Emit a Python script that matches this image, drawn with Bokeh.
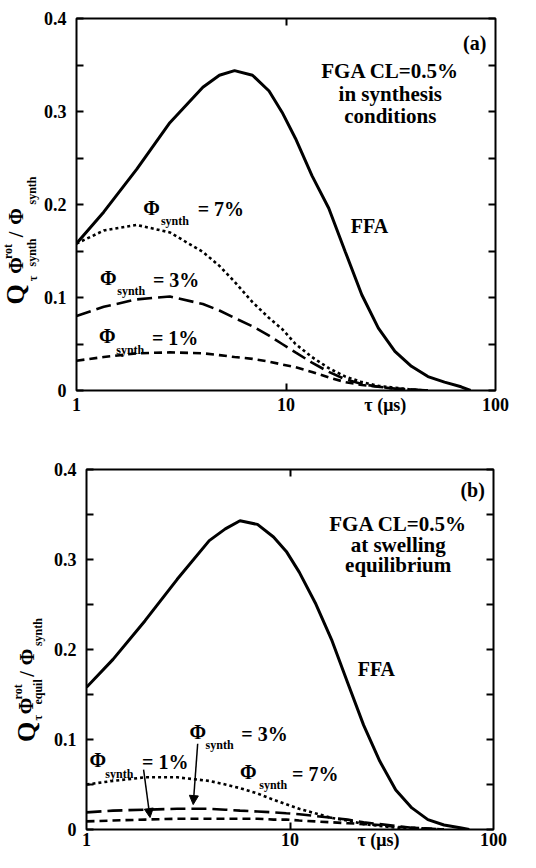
import math
from bokeh.plotting import figure
from bokeh.models import FixedTicker, LinearAxis, LogAxis, Label, Arrow, NormalHead, Range1d
from bokeh.layouts import column, row
from bokeh.embed import file_html
from bokeh.resources import INLINE

# ---------------- data ----------------
tau = [1.0, 1.35, 1.94, 2.79, 4.01, 4.81, 5.68, 6.92, 8.30, 9.59, 11.1, 13.3,
       16.0, 19.2, 23.0, 27.6, 33.1, 39.7, 47.6, 57.1, 68.5, 76.0]

a_ffa = [0.158, 0.192, 0.238, 0.288, 0.326, 0.339, 0.344, 0.339, 0.322, 0.299, 0.271,
         0.231, 0.196, 0.149, 0.103, 0.067, 0.042, 0.026, 0.015, 0.009, 0.004, 0.0]
a_phi7 = [0.158, 0.172, 0.178, 0.170, 0.149, 0.134, 0.117, 0.095, 0.078, 0.066, 0.050,
          0.036, 0.024, 0.015, 0.009, 0.005, 0.003, 0.001, 0.0]
a_phi3 = [0.080, 0.090, 0.098, 0.101, 0.093, 0.086, 0.078, 0.069, 0.059, 0.050, 0.041,
          0.030, 0.020, 0.012, 0.007, 0.004, 0.002, 0.001, 0.0]
a_phi1 = [0.032, 0.036, 0.040, 0.041, 0.040, 0.038, 0.036, 0.034, 0.031, 0.028, 0.025,
          0.020, 0.014, 0.009, 0.006, 0.004, 0.002, 0.001, 0.0]

b_ffa = [0.158, 0.189, 0.232, 0.278, 0.321, 0.334, 0.343, 0.339, 0.325, 0.309, 0.286,
         0.252, 0.211, 0.163, 0.116, 0.076, 0.044, 0.024, 0.011, 0.005, 0.002, 0.0]
b_phi7 = [0.050, 0.054, 0.058, 0.058, 0.054, 0.050, 0.046, 0.040, 0.033, 0.028, 0.023,
          0.018, 0.013, 0.010, 0.006, 0.004, 0.002, 0.001, 0.0]
b_phi3 = [0.019, 0.021, 0.022, 0.023, 0.023, 0.022, 0.021, 0.020, 0.019, 0.018, 0.017,
          0.015, 0.013, 0.011, 0.008, 0.006, 0.004, 0.002, 0.001, 0.0]
b_phi1 = [0.009, 0.010, 0.011, 0.012, 0.012, 0.012, 0.012, 0.012, 0.011, 0.011, 0.010,
          0.009, 0.008, 0.007, 0.006, 0.005, 0.003, 0.002, 0.001, 0.0]

x_ticks = [1, 10, 100]
x_labels = ["1", "10", "100"]
x_title = "τ (μs)"
x_title_pos_a = 29.8
x_title_pos_b = 27.2
y_major = [0, 0.1, 0.2, 0.3, 0.4]
y_minor = [0.05, 0.15, 0.25, 0.35]
y_labels = ["0", "0.1", "0.2", "0.3", "0.4"]

FONT = "Liberation Serif"


def style_axis(ax, show_labels, standoff, tick_len=7):
    ax.axis_line_color = None
    ax.major_tick_in = tick_len
    ax.major_tick_out = 0
    ax.minor_tick_in = tick_len
    ax.minor_tick_out = 0
    ax.major_tick_line_width = 2
    ax.minor_tick_line_width = 2
    ax.major_tick_line_color = "black"
    ax.minor_tick_line_color = "black"
    ax.major_label_text_font = FONT
    ax.major_label_text_font_style = "bold"
    ax.major_label_text_color = "black"
    ax.major_label_standoff = standoff
    if show_labels:
        ax.major_label_text_font_size = "18px"
    else:
        ax.major_label_text_font_size = "1px"
        ax.major_label_text_alpha = 0


def make_fig(w, h, bl, br, bt, bb, xstand, xt_pos):
    p = figure(width=w, height=h, x_axis_type="log", x_range=(1, 100), y_range=(0, 0.4),
               output_backend="svg", toolbar_location=None,
               min_border_left=bl, min_border_right=br, min_border_top=bt, min_border_bottom=bb)
    p.grid.grid_line_color = None
    p.outline_line_color = "black"
    p.outline_line_width = 2
    p.background_fill_color = "white"
    p.border_fill_color = "white"
    xa = p.xaxis[0]
    xa.ticker = FixedTicker(ticks=[10])
    style_axis(xa, False, 0)
    xl = LogAxis(ticker=FixedTicker(ticks=x_ticks + [xt_pos]))
    xl.major_label_overrides = dict(zip(x_ticks + [xt_pos], x_labels + [x_title]))
    style_axis(xl, True, xstand, tick_len=0)
    xl.major_tick_line_color = None
    xl.minor_tick_line_color = None
    p.add_layout(xl, "below")
    ya = p.yaxis[0]
    ya.ticker = FixedTicker(ticks=y_major, minor_ticks=y_minor)
    ya.major_label_overrides = dict(zip(y_major, y_labels))
    style_axis(ya, True, 10)
    right = LinearAxis(ticker=FixedTicker(ticks=y_major, minor_ticks=y_minor))
    style_axis(right, False, 0)
    p.add_layout(right, "right")
    top = LogAxis(ticker=FixedTicker(ticks=[10]))
    style_axis(top, False, 0)
    p.add_layout(top, "above")
    return p


def make_label_fig(w, h, bt, bb):
    # its frame spans the same rows as the neighbouring plot's frame
    fh = h - bt - bb
    p = figure(width=w, height=h, x_range=Range1d(0, w), y_range=Range1d(0, fh),
               output_backend="svg", toolbar_location=None,
               x_axis_location=None, y_axis_location=None,
               min_border_left=0, min_border_right=0,
               min_border_top=bt, min_border_bottom=bb)
    p.grid.grid_line_color = None
    p.outline_line_color = None
    p.background_fill_color = "white"
    p.border_fill_color = "white"
    return p


def add_text(p, x, y, text, size, align="center", baseline="middle", bold=True, angle=0.0):
    p.add_layout(Label(x=x, y=y, text=text, text_font=FONT, text_font_size=f"{size}px",
                       text_font_style="bold" if bold else "normal", text_color="black",
                       text_align=align, text_baseline=baseline, angle=angle))


def draw_curves(p, ffa, p7, p3, p1):
    p.line(tau[:len(ffa)], ffa, line_color="black", line_width=3)
    p.line(tau[:len(p7)], p7, line_color="black", line_width=2.6, line_dash="3 3")
    p.line(tau[:len(p3)], p3, line_color="black", line_width=2.6, line_dash="15 6")
    p.line(tau[:len(p1)], p1, line_color="black", line_width=2.6, line_dash="8 5")


def phi_label(p, fx, fy, phi_c, sub_left, sub_y, eq_left, eq_y, pct):
    add_text(p, fx(phi_c[0]), fy(phi_c[1]), "Φ", 20)
    add_text(p, fx(sub_left), fy(sub_y), "synth", 12, align="left")
    add_text(p, fx(eq_left), fy(eq_y), "= " + pct, 20, align="left")


def ylabel(p, fx, fy, pieces):
    # each piece: text, font size, centre x, centre y (page pixels), rotated to read upwards
    for txt, size, cx, cy in pieces:
        add_text(p, fx(cx), fy(cy), txt, size, align="center", baseline="middle",
                 angle=math.pi / 2)


# ---------------- panel (a) ----------------
la = make_label_fig(40, 425, 18, 35)
pa = make_fig(480, 425, 33, 25, 18, 35, 4, x_title_pos_a)
fxa = lambda px: 10 ** (2 * (px - 81) / 422)
fya = lambda py: 0.4 * (398 - py) / 372
draw_curves(pa, a_ffa, a_phi7, a_phi3, a_phi1)
add_text(pa, fxa(482), fya(50), "(a)", 20)
add_text(pa, fxa(397), fya(78), "FGA CL=0.5%", 21)
add_text(pa, fxa(397), fya(101), "in synthesis", 21)
add_text(pa, fxa(397), fya(123), "conditions", 21)
add_text(pa, fxa(376), fya(233), "FFA", 20)
phi_label(pa, fxa, fya, (156.5, 215), 166, 228, 203, 216, "7%")
phi_label(pa, fxa, fya, (113, 285), 122, 298, 158, 287, "3%")
phi_label(pa, fxa, fya, (112, 343), 121, 357, 157, 345, "1%")
ylabel(la, lambda px: px - 8, lambda py: 398 - py,
       [("Q", 26, 23, 302), ("τ", 12, 40, 286), ("Φ", 20, 23, 273),
        ("rot", 12, 15, 259), ("synth", 12, 39, 260), ("/", 20, 23, 242),
        ("Φ", 20, 23, 224), ("synth", 12, 39, 198)])

# ---------------- panel (b) ----------------
lb = make_label_fig(50, 427, 44, 22)
pb = make_fig(470, 427, 33, 27, 44, 22, 0, x_title_pos_b)
fxb = lambda px: 10 ** (2 * (px - 91) / 410)
fyb = lambda py: 0.4 * (838 - py) / 361
draw_curves(pb, b_ffa, b_phi7, b_phi3, b_phi1)
add_text(pb, fxb(480), fyb(498), "(b)", 20)
add_text(pb, fxb(405), fyb(532), "FGA CL=0.5%", 21)
add_text(pb, fxb(405), fyb(553), "at swelling", 21)
add_text(pb, fxb(405), fyb(573), "equilibrium", 21)
add_text(pb, fxb(383), fyb(677), "FFA", 20)
phi_label(pb, fxb, fyb, (203, 740), 211, 753, 247, 742, "3%")
phi_label(pb, fxb, fyb, (102.5, 768), 110, 782, 147, 770, "1%")
phi_label(pb, fxb, fyb, (254, 780), 265, 793, 298, 782, "7%")
for (x0, y0, x1, y1) in [(203, 752, 198.5, 813), (148.5, 778, 155, 826)]:
    pb.add_layout(Arrow(end=NormalHead(size=9, fill_color="black", line_color="black", line_width=1),
                        x_start=fxb(x0), y_start=fyb(y0), x_end=fxb(x1), y_end=fyb(y1),
                        line_color="black", line_width=1.5))
ylabel(lb, lambda px: px - 8, lambda py: 838 - py,
       [("Q", 26, 34, 740), ("τ", 12, 45, 726), ("Φ", 20, 33, 714),
        ("rot", 12, 25, 700), ("equil", 12, 45, 700), ("/", 20, 34, 682),
        ("Φ", 20, 34, 665), ("synth", 12, 45, 640)])

layout = column(row(la, pa), row(lb, pb))
open("out.html", "w").write(file_html(layout, INLINE))
